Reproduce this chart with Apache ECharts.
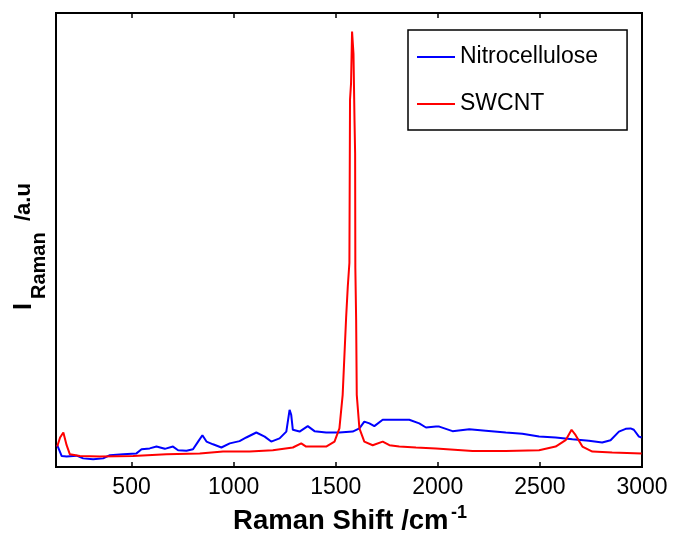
<!DOCTYPE html>
<html>
<head>
<meta charset="utf-8">
<script src="https://cdn.jsdelivr.net/npm/echarts@6/dist/echarts.min.js"></script>
<style>
  html, body { margin: 0; padding: 0; background: #fff; }
  #chart { width: 676px; height: 541px; }
</style>
</head>
<body>
<div id="chart"></div>
<script>
// Raman shift (cm-1) and intensity (a.u.)
const nitroShift = [136, 158, 182, 231, 263, 312, 361, 394, 459, 524, 549, 589, 622, 663, 703, 728, 769, 801, 826, 847, 867, 899, 940, 981, 1029, 1062, 1111, 1152, 1184, 1225, 1258, 1274, 1282, 1290, 1323, 1363, 1396, 1453, 1518, 1583, 1616, 1640, 1665, 1689, 1730, 1811, 1860, 1909, 1942, 1991, 2007, 2072, 2154, 2235, 2333, 2414, 2496, 2577, 2659, 2740, 2805, 2846, 2887, 2920, 2944, 2960, 2985, 2998]
const nitroValues = [4.8, 2.4, 2.3, 2.5, 1.9, 1.7, 1.9, 2.6, 2.8, 3.0, 3.9, 4.1, 4.5, 4.0, 4.5, 3.7, 3.6, 3.9, 5.6, 7.0, 5.6, 5.0, 4.3, 5.2, 5.7, 6.5, 7.6, 6.7, 5.6, 6.3, 7.8, 12.6, 11.5, 8.2, 7.8, 9.0, 7.9, 7.6, 7.6, 7.8, 8.5, 10.0, 9.6, 9.0, 10.4, 10.4, 10.4, 9.6, 8.7, 8.9, 8.9, 7.9, 8.3, 8.0, 7.6, 7.3, 6.7, 6.5, 6.1, 5.8, 5.4, 5.9, 7.8, 8.4, 8.5, 8.2, 6.7, 6.5]

const swcntShift = [136, 150, 166, 182, 198, 247, 345, 508, 671, 834, 948, 1078, 1192, 1290, 1331, 1355, 1453, 1494, 1518, 1534, 1551, 1559, 1567, 1570, 1575, 1580, 1587, 1592, 1595, 1596, 1600, 1603, 1616, 1640, 1681, 1730, 1763, 1811, 1893, 1991, 2170, 2333, 2496, 2577, 2626, 2655, 2675, 2708, 2757, 2854, 2998]
const swcntValues = [4.5, 6.5, 7.6, 4.8, 2.8, 2.4, 2.3, 2.4, 2.8, 3.0, 3.4, 3.4, 3.7, 4.3, 5.2, 4.5, 4.5, 5.6, 8.5, 15.9, 33, 39.7, 45, 80.9, 84.5, 95.9, 91, 76.4, 69, 44, 32.4, 15.9, 8.5, 5.6, 4.8, 5.6, 4.8, 4.5, 4.3, 4.1, 3.5, 3.5, 3.7, 4.5, 5.9, 8.2, 7.0, 4.5, 3.4, 3.2, 3.0]

const xTicks = [500, 1000, 1500, 2000, 2500, 3000]

const font = 'Liberation Sans, Arial, sans-serif'

const chart = echarts.init(document.getElementById('chart'))

const zip = (xs, ys) => xs.map((x, i) => [x, ys[i]])

const titleText = (text, x, y, size, rotation) => ({
  type: 'text',
  x: x,
  y: y,
  rotation: rotation || 0,
  style: {
    text: text,
    font: 'bold ' + size + 'px "Liberation Sans", Arial, sans-serif',
    fill: '#000',
    textAlign: 'left',
    textVerticalAlign: 'middle',
  },
})

const option = {
  animation: false,
  backgroundColor: '#fff',
  grid: {
    left: 56,
    right: 34,
    top: 13,
    bottom: 74,
    show: true,
    borderColor: '#000',
    borderWidth: 2,
    containLabel: false,
    outerBoundsMode: 'none',
  },
  legend: {
    data: ['Nitrocellulose', 'SWCNT'],
    orient: 'vertical',
    left: 408,
    top: 30,
    padding: [15, 29, 14, 9],
    itemGap: 23,
    itemWidth: 38,
    itemHeight: 2,
    icon: 'rect',
    borderColor: '#000',
    borderWidth: 1.5,
    backgroundColor: '#fff',
    textStyle: {
      fontFamily: font,
      fontSize: 23,
      lineHeight: 24,
      color: '#000',
    },
  },
  graphic: [
    { ...titleText('Raman Shift /cm', 340.8, 521, 27.5), style: { ...titleText('', 0, 0, 27.5).style, text: 'Raman Shift /cm', textAlign: 'center' } },
    titleText('-1', 451, 513.5, 18),
    titleText('I', 24.5, 310, 25, Math.PI / 2),
    titleText('Raman', 39.5, 299, 20, Math.PI / 2),
    titleText('/a.u', 24.4, 221, 22, Math.PI / 2),
  ],
  xAxis: [
    {
      type: 'value',
      position: 'bottom',
      min: 130,
      max: 3000,
      axisLine: { show: false },
      splitLine: { show: false },
      axisTick: {
        inside: true,
        length: 5,
        customValues: xTicks,
        lineStyle: { color: '#000', width: 1.5 },
      },
      axisLabel: {
        customValues: xTicks,
        showMaxLabel: true,
        formatter: (v) => String(v),
        color: '#000',
        fontFamily: font,
        fontSize: 23,
        margin: 9,
      },
    },
    {
      type: 'value',
      position: 'top',
      min: 130,
      max: 3000,
      axisLine: { show: false },
      splitLine: { show: false },
      axisLabel: { show: false },
      axisTick: {
        inside: true,
        length: 5,
        customValues: xTicks,
        lineStyle: { color: '#000', width: 1.5 },
      },
    },
  ],
  yAxis: {
    type: 'value',
    min: 0,
    max: 100,
    axisLine: { show: false },
    axisTick: { show: false },
    axisLabel: { show: false },
    splitLine: { show: false },
  },
  series: [
    {
      name: 'Nitrocellulose',
      type: 'line',
      symbol: 'none',
      data: zip(nitroShift, nitroValues),
      lineStyle: { color: '#0000ff', width: 2 },
      itemStyle: { color: '#0000ff' },
    },
    {
      name: 'SWCNT',
      type: 'line',
      symbol: 'none',
      data: zip(swcntShift, swcntValues),
      lineStyle: { color: '#ff0000', width: 2 },
      itemStyle: { color: '#ff0000' },
    },
  ],
}

chart.setOption(option)
</script>
</body>
</html>
